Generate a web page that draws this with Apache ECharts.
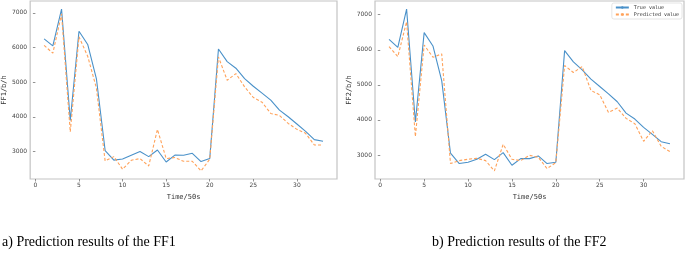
<!DOCTYPE html>
<html>
<head>
<meta charset="utf-8">
<script src="https://cdn.jsdelivr.net/npm/echarts@6/dist/echarts.min.js"></script>
<style>
  html, body { margin: 0; padding: 0; background: #fff; }
  #main { width: 685px; height: 253px; }
</style>
</head>
<body>
<div id="main"></div>
<script>
var steps = [1, 2, 3, 4, 5, 6, 7, 8, 9, 10, 11, 12, 13, 14, 15, 16, 17,
  18, 19, 20, 21, 22, 23, 24, 25, 26, 27, 28, 29, 30, 31, 32, 33];

var ff1True = [6250, 6050, 7110, 3900, 6470, 6090, 5100, 3030, 2755, 2785, 2895, 3000, 2855,
  3045, 2700, 2900, 2895, 2950, 2712, 2798, 5960, 5595, 5405, 5105, 4885, 4685, 4485,
  4195, 4005, 3795, 3585, 3345, 3298];
var ff1Pred = [6062, 5840, 6970, 3570, 6310, 5750, 4830, 2730, 2855, 2490, 2750, 2800, 2585,
  3640, 2800, 2828, 2720, 2720, 2443, 2780, 5730, 5058, 5250, 4868, 4560, 4425, 4100,
  4043, 3813, 3641, 3526, 3190, 3190];

var ff2True = [6295, 6070, 7160, 3940, 6490, 6108, 5120, 3050, 2754, 2791, 2877, 3019, 2867,
  3066, 2706, 2896, 2896, 2972, 2754, 2791, 5976, 5654, 5427, 5161, 4953, 4744, 4517,
  4194, 4024, 3787, 3588, 3379, 3322];
var ff2Pred = [6090, 5806, 6800, 3525, 6135, 5787, 5882, 2754, 2839, 2877, 2905, 2839, 2545,
  3303, 2877, 2839, 2990, 2934, 2611, 2782, 5550, 5351, 5521, 4839, 4716, 4213, 4336,
  4043, 3891, 3389, 3692, 3246, 3095];

var xTicks = [0, 5, 10, 15, 20, 25, 30];
var yTicks = [3000, 4000, 5000, 6000, 7000];

function pairs(ys) {
  return steps.map(function (s, i) { return [s, ys[i]]; });
}

// matplotlib style 5% margins
function yRange(a, b) {
  var all = a.concat(b);
  var lo = Math.min.apply(null, all), hi = Math.max.apply(null, all);
  var m = (hi - lo) * 0.05;
  return [lo - m, hi + m];
}

var tickFont = { fontFamily: 'DejaVu Sans', fontSize: 6, color: '#444' };
var nameFont = { fontFamily: 'DejaVu Sans Mono', fontSize: 7, color: '#333' };

function plain(v) { return String(v); }

function xAxis(idx) {
  return {
    gridIndex: idx, type: 'value', min: -0.6, max: 34.6,
    name: 'Time/50s', nameLocation: 'middle', nameGap: 15, nameTextStyle: nameFont,
    axisLine: { show: false },
    splitLine: { show: false },
    axisTick: { show: true, length: 2.5, customValues: xTicks, lineStyle: { color: '#777', width: 0.8 } },
    axisLabel: Object.assign({ margin: 3, customValues: xTicks, formatter: plain }, tickFont)
  };
}

function yAxis(idx, name, r) {
  return {
    gridIndex: idx, type: 'value', min: r[0], max: r[1],
    name: name, nameLocation: 'middle', nameGap: 21, nameTextStyle: nameFont,
    axisLine: { show: false },
    splitLine: { show: false },
    axisTick: { show: true, length: 2.5, customValues: yTicks, lineStyle: { color: '#777', width: 0.8 } },
    axisLabel: Object.assign({ margin: 3, customValues: yTicks, formatter: plain }, tickFont)
  };
}

var blue = '#4a91c9';
var orange = '#ffa25a';

function lines(idx, t, p) {
  return [
    {
      name: 'True value', type: 'line', xAxisIndex: idx, yAxisIndex: idx,
      data: pairs(t), symbol: 'none', silent: true,
      lineStyle: { color: blue, width: 1.1 }, itemStyle: { color: blue }
    },
    {
      name: 'Predicted value', type: 'line', xAxisIndex: idx, yAxisIndex: idx,
      data: pairs(p), symbol: 'none', silent: true,
      lineStyle: { color: orange, width: 1.1, type: [3, 2] }, itemStyle: { color: orange }
    }
  ];
}

var chart = echarts.init(document.getElementById('main'), null, { renderer: 'canvas' });

var captionStyle = { fontFamily: 'Liberation Serif', fontSize: 14, fill: '#000' };

var option = {
  animation: false,
  grid: [
    { left: 28, top: 1, width: 309, height: 178, show: true, borderColor: '#c4c4c4', borderWidth: 1.2 },
    { left: 375, top: 1, width: 309, height: 178, show: true, borderColor: '#c4c4c4', borderWidth: 1.2 }
  ],
  xAxis: [xAxis(0), xAxis(1)],
  yAxis: [
    yAxis(0, 'FF1/b/h', yRange(ff1True, ff1Pred)),
    yAxis(1, 'FF2/b/h', yRange(ff2True, ff2Pred))
  ],
  legend: {
    data: ['True value', 'Predicted value'],
    orient: 'vertical',
    right: 3, top: 3,
    itemWidth: 13, itemHeight: 3, itemGap: 2,
    padding: [2, 3],
    borderColor: '#ddd', borderWidth: 0.8, borderRadius: 2,
    textStyle: { fontFamily: 'DejaVu Sans Mono', fontSize: 5, color: '#333' }
  },
  graphic: [
    { type: 'text', left: 2, top: 235, style: Object.assign({ text: 'a) Prediction results of the FF1' }, captionStyle) },
    { type: 'text', left: 432, top: 235, style: Object.assign({ text: 'b) Prediction results of the FF2' }, captionStyle) }
  ],
  series: lines(0, ff1True, ff1Pred).concat(lines(1, ff2True, ff2Pred))
};

chart.setOption(option);
</script>
</body>
</html>
